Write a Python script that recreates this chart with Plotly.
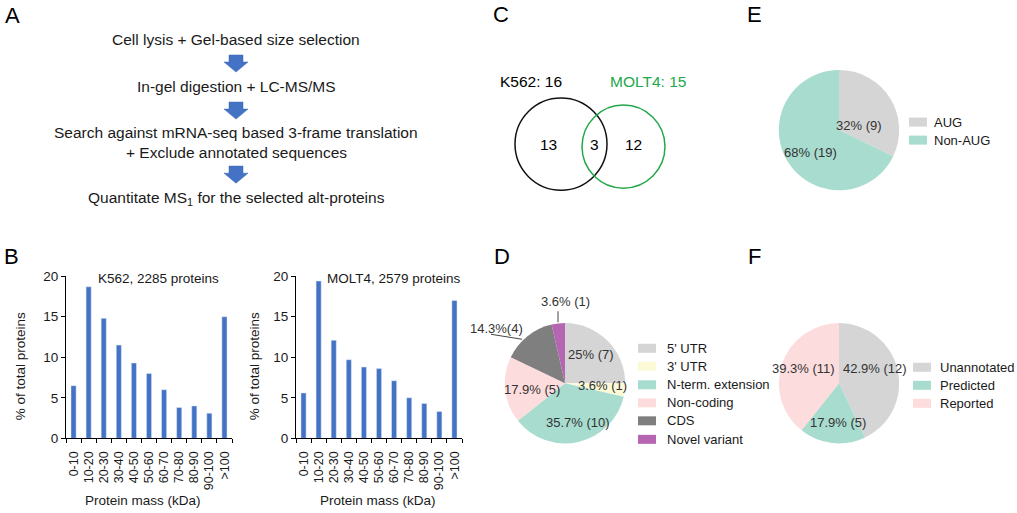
import plotly.graph_objects as go

W, H = 1017, 513
FONT = "Liberation Sans, Arial, sans-serif"
TXT = "#1a1a1a"

# ---------------- Panel A: workflow ----------------
workflow_lines = [
    "Cell lysis + Gel-based size selection",
    "In-gel digestion + LC-MS/MS",
    "Search against mRNA-seq based 3-frame translation",
    "+ Exclude annotated sequences",
    "Quantitate MS<sub>1</sub> for the selected alt-proteins",
]

# ---------------- Panel B: mass distributions ----------------
mass_bins = ["0-10", "10-20", "20-30", "30-40", "40-50", "50-60",
             "60-70", "70-80", "80-90", "90-100", ">100"]
k562_pct = [6.5, 18.7, 14.8, 11.5, 9.3, 8.0, 6.0, 3.8, 4.0, 3.1, 15.0]
molt4_pct = [5.6, 19.4, 12.1, 9.7, 8.8, 8.6, 7.1, 5.0, 4.3, 3.3, 17.0]
k562_total = 2285
molt4_total = 2579

# ---------------- Panel C: overlap ----------------
k562_alt = 16
molt4_alt = 15
shared_alt = 3

# ---------------- Panel D: origin ----------------
origin_labels = ["5' UTR", "3' UTR", "N-term. extension", "Non-coding", "CDS", "Novel variant"]
origin_counts = [7, 1, 10, 5, 4, 1]
origin_pct = ["25%", "3.6%", "35.7%", "17.9%", "14.3%", "3.6%"]
origin_colors = ["#d5d5d5", "#fcfad6", "#a7dccf", "#fcdcdc", "#7f7f7f", "#b565b1"]

# ---------------- Panel E: start codon ----------------
start_labels = ["AUG", "Non-AUG"]
start_counts = [9, 19]
start_pct = ["32%", "68%"]
start_colors = ["#d5d5d5", "#a7dccf"]

# ---------------- Panel F: annotation ----------------
annot_labels = ["Unannotated", "Predicted", "Reported"]
annot_counts = [12, 5, 11]
annot_pct = ["42.9%", "17.9%", "39.3%"]
annot_colors = ["#d5d5d5", "#a7dccf", "#fcdcdc"]


# layout helpers (pixel positions of the target picture -> figure coordinates;
# the capture maps figure y to 8 + 0.97*y, so vertical positions are corrected)
def Y(y):
    return (y - 8) / 0.97


def px_x(x):
    return x / W


def px_y(y):
    return 1 - Y(y) / H


fig = go.Figure()

BAR_COLOR = "#4472c4"
fig.add_trace(go.Bar(x=mass_bins, y=k562_pct, marker_color=BAR_COLOR,
                     xaxis="x", yaxis="y", showlegend=False))
fig.add_trace(go.Bar(x=mass_bins, y=molt4_pct, marker_color=BAR_COLOR,
                     xaxis="x2", yaxis="y2", showlegend=False))


def pie_domain(cx, cy, r):
    cyf = Y(cy)
    return dict(x=[px_x(cx - r), px_x(cx + r)], y=[1 - (cyf + r) / H, 1 - (cyf - r) / H])


for labels, vals, cols, dom in [
    (origin_labels, origin_counts, origin_colors, pie_domain(565, 384, 62)),
    (start_labels, start_counts, start_colors, pie_domain(839, 131, 62)),
    (annot_labels, annot_counts, annot_colors, pie_domain(839, 384, 62)),
]:
    fig.add_trace(go.Pie(labels=labels, values=vals, sort=False, direction="clockwise",
                         rotation=0, textinfo="none", domain=dom, showlegend=False,
                         marker=dict(colors=cols, line=dict(width=0)),
                         hoverinfo="label+value+percent"))

axis_common = dict(showline=True, linecolor="#000", linewidth=1, showgrid=False,
                   zeroline=False, ticks="outside", ticklen=4, tickcolor="#000",
                   fixedrange=True)

xcat = dict(axis_common, type="category", tickson="boundaries", tickangle=-90,
            range=[-0.5, 10.5], dtick=1, ticklabelstandoff=7,
            tickfont=dict(family=FONT, size=12.5, color=TXT))
ycat = dict(axis_common, range=[0, 20], tickvals=[0, 5, 10, 15, 20],
            tickfont=dict(family=FONT, size=13.5, color=TXT))

layout = dict(
    width=W, height=H, margin=dict(l=0, r=0, t=0, b=0),
    paper_bgcolor="white", plot_bgcolor="rgba(0,0,0,0)",
    bargap=0.66,
    xaxis=dict(xcat, domain=[px_x(66), px_x(232)], anchor="y"),
    yaxis=dict(ycat, domain=[px_y(439), px_y(277)], anchor="x"),
    xaxis2=dict(xcat, domain=[px_x(296), px_x(462)], anchor="y2"),
    yaxis2=dict(ycat, domain=[px_y(439), px_y(277)], anchor="x2"),
    xaxis3=dict(domain=[0, 1], range=[0, W], visible=False, fixedrange=True, anchor="y3"),
    yaxis3=dict(domain=[0, 1], range=[H, 0], visible=False, fixedrange=True, anchor="x3"),
    font=dict(family=FONT, color=TXT),
)
fig.update_layout(**layout)

shapes = []
ann = []


def text(x, y, s, size=13, color=TXT, xanchor="center", angle=0, raw=False):
    ann.append(dict(x=x, y=y if raw else Y(y), xref="x3", yref="y3", text=s, showarrow=False,
                    xanchor=xanchor, yanchor="middle", textangle=angle,
                    font=dict(family=FONT, size=size, color=color)))


# panel letters
for letter, (x, y) in zip("ABCDEF", [(12, 16), (11, 257), (501, 15), (502, 257), (754, 15), (754, 257)]):
    text(x, y, letter, size=22, color="#000")

# Panel A text and arrows
line_y = [40, 87, 133, 153, 199]
for s, y in zip(workflow_lines, line_y):
    text(236, y, s, size=15.5)
for top in [56, 103, 167]:
    cx = 236
    t0, t1, t2 = Y(top), Y(top + 7), Y(top + 17)
    path = (f"M{cx-7},{t0} L{cx+7},{t0} L{cx+7},{t1} L{cx+12},{t1} "
            f"L{cx},{t2} L{cx-12},{t1} L{cx-7},{t1} Z")
    shapes.append(dict(type="path", path=path, xref="x3", yref="y3",
                       fillcolor="#4472c4", line=dict(color="#3a65b0", width=0.5)))

# Panel B titles
text(158, 279, f"K562, {k562_total} proteins", size=13.5)
text(394, 279, f"MOLT4, {molt4_total} proteins", size=13.5)
text(143, 501, "Protein mass (kDa)", size=13.5)
text(378, 501, "Protein mass (kDa)", size=13.5)
text(20, 367, "% of total proteins", size=13.5, angle=-90)
text(254, 367, "% of total proteins", size=13.5, angle=-90)

# Panel C Venn
GREEN = "#22a84a"
for (cx, cy, r, col) in [(561, 145, 46, "#111"), (623.5, 147.5, 41.5, GREEN)]:
    shapes.append(dict(type="circle", xref="x3", yref="y3", x0=cx - r, x1=cx + r,
                       y0=Y(cy - r), y1=Y(cy + r), line=dict(color=col, width=1.5)))
text(531, 82, f"K562: {k562_alt}", size=15.5, color="#000")
text(648, 82, f"MOLT4: {molt4_alt}", size=15.5, color=GREEN)
text(548, 145, str(k562_alt - shared_alt), size=15.5, color="#000")
text(594, 145, str(shared_alt), size=15.5, color="#000")
text(633, 145, str(molt4_alt - shared_alt), size=15.5, color="#000")

# Panel D labels
PIE_TXT = "#333"
d_pos = [(591, 355), (602, 386), (578, 423), (532, 390), (496, 329), (565, 302)]
for i, (p, n) in enumerate(zip(origin_pct, origin_counts)):
    sep = "" if origin_labels[i] == "CDS" else " "
    text(d_pos[i][0], d_pos[i][1], f"{p}{sep}({n})", size=13, color=PIE_TXT)
shapes.append(dict(type="line", xref="x3", yref="y3", x0=491, y0=Y(335), x1=522, y1=Y(340),
                   line=dict(color="#444", width=1)))
shapes.append(dict(type="line", xref="x3", yref="y3", x0=558, y0=Y(312), x1=558, y1=Y(323),
                   line=dict(color="#444", width=1)))

# Panel E labels
for (x, y), p, n in zip([(859, 126), (810, 153)], start_pct, start_counts):
    text(x, y, f"{p} ({n})", size=13, color=PIE_TXT)

# Panel F labels
for (x, y), p, n in zip([(875, 369), (838, 423), (803, 369)], annot_pct, annot_counts):
    text(x, y, f"{p} ({n})", size=13, color=PIE_TXT)


# legends
def legend(x_sq, x_txt, ys, labels, colors):
    for y, lab, col in zip(ys, labels, colors):
        shapes.append(dict(type="rect", xref="x3", yref="y3", x0=x_sq, x1=x_sq + 18,
                           y0=Y(y - 4.5), y1=Y(y + 4.5), fillcolor=col, line=dict(width=0)))
        text(x_txt, y, lab, size=13, xanchor="left")


legend(638, 665, [349, 367, 385.5, 403.5, 421.5, 440], origin_labels, origin_colors)
legend(909, 932, [123, 141], start_labels, start_colors)
legend(913, 938, [368, 386, 404], annot_labels, annot_colors)

fig.update_layout(shapes=shapes, annotations=ann)
fig.write_html(
    "out.html",
    config={"displayModeBar": False},
    post_script="document.body.style.margin='0';document.documentElement.style.overflow='hidden';",
)
